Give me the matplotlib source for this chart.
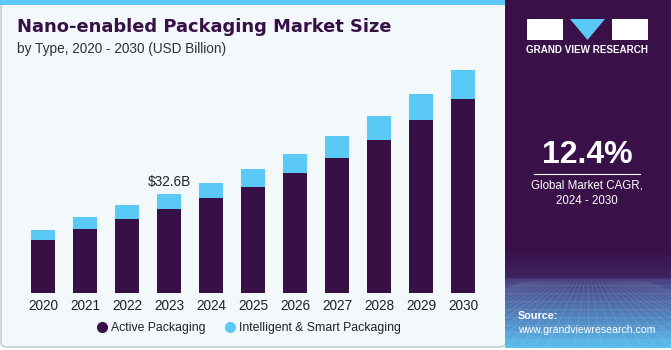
import numpy as np
import matplotlib
matplotlib.use("Agg")
import matplotlib.pyplot as plt
from matplotlib.patches import FancyBboxPatch, Rectangle, Polygon
from matplotlib.colors import LinearSegmentedColormap
from matplotlib.lines import Line2D

# market size by type, USD billion
years = ['2020', '2021', '2022', '2023', '2024', '2025', '2026', '2027', '2028', '2029', '2030']
active = [17.6, 21.2, 24.6, 27.7, 31.3, 35.0, 39.6, 44.7, 50.4, 57.0, 64.0]
smart = [3.3, 3.8, 4.4, 4.9, 5.0, 6.0, 6.3, 7.0, 7.9, 8.5, 9.6]
label_year = 3
label_text = '$32.6B'

dark = '#371046'
cyan = '#5bc9f6'
bg = '#f3f8fb'

plt.rcParams['font.family'] = ['Liberation Sans', 'DejaVu Sans']

fig = plt.figure(figsize=(6.71, 3.5), dpi=100)
fig.patch.set_facecolor('white')
W, H = 671.0, 350.0

# left panel background + border
panel = FancyBboxPatch((1 / W, 3 / H), 505 / W, 345 / H,
                       boxstyle='round,pad=0,rounding_size=0.012',
                       transform=fig.transFigure, facecolor=bg,
                       edgecolor='#c8cdd2', linewidth=1.2, zorder=-2)
fig.patches.append(panel)
fig.patches.append(Rectangle((0, 345 / H), 506 / W, 5 / H, transform=fig.transFigure,
                             facecolor=cyan, edgecolor='none', zorder=-1))

# right panel with gradient
rax = fig.add_axes([505 / W, 2 / H, 166 / W, 348 / H])
rax.set_zorder(1)
cmap = LinearSegmentedColormap.from_list('side', [
    (0.0, '#3a1048'), (0.72, '#3a1048'), (0.80, '#3f2560'),
    (0.805, '#4a4282'), (0.92, '#5388c2'), (1.0, '#5cbdee')])
grad = np.linspace(0, 1, 300).reshape(-1, 1)
rax.imshow(grad, aspect='auto', cmap=cmap, extent=[0, 1, 1, 0])
rax.set_xlim(0, 1)
rax.set_ylim(1, 0)
# faint perspective mesh near the bottom
for k in range(-12, 24):
    x0 = k / 12.0
    rax.plot([0.5 + (x0 - 0.5) * 0.25, x0], [0.81, 1.0], color='white', lw=0.4, alpha=0.18)
for yy in np.linspace(0.82, 1.0, 9):
    rax.plot([0, 1], [yy, yy], color='white', lw=0.4, alpha=0.15)
rax.axis('off')

# logo
fig.patches.append(Rectangle((527 / W, 310 / H), 36 / W, 21 / H, transform=fig.transFigure,
                             facecolor='white', edgecolor='none', zorder=3))
fig.patches.append(Polygon([(570 / W, 331 / H), (605 / W, 331 / H), (587.5 / W, 310 / H)],
                           closed=True, transform=fig.transFigure, facecolor=cyan,
                           edgecolor='none', zorder=3))
fig.patches.append(Rectangle((612 / W, 310 / H), 36 / W, 21 / H, transform=fig.transFigure,
                             facecolor='white', edgecolor='none', zorder=3))
fig.text(587 / W, 300 / H, 'GRAND VIEW RESEARCH', color='white', fontsize=7.1,
         fontweight='bold', ha='center', va='center', zorder=3)

# CAGR block
fig.text(587 / W, 195 / H, '12.4%', color='white', fontsize=23, fontweight='bold',
         ha='center', va='center', zorder=3)
fig.lines.append(Line2D([534 / W, 640 / W], [176 / H, 176 / H], transform=fig.transFigure,
                        color='white', lw=0.8, zorder=3))
fig.text(587 / W, 164 / H, 'Global Market CAGR,', color='white', fontsize=8.3,
         ha='center', va='center', zorder=3)
fig.text(587 / W, 149 / H, '2024 - 2030', color='white', fontsize=8.3,
         ha='center', va='center', zorder=3)
fig.text(518 / W, 34 / H, 'Source:', color='white', fontsize=7.8, fontweight='bold',
         ha='left', va='center', zorder=3)
fig.text(518 / W, 20 / H, 'www.grandviewresearch.com', color='white', fontsize=7.6,
         ha='left', va='center', zorder=3)

# titles
fig.text(17 / W, 323 / H, 'Nano-enabled Packaging Market Size', color=dark, fontsize=12.9,
         fontweight='bold', family='DejaVu Sans', ha='left', va='center')
fig.text(17 / W, 301 / H, 'by Type, 2020 - 2030 (USD Billion)', color='#333333', fontsize=9.8,
         ha='left', va='center')

# bars
ax = fig.add_axes([22 / W, (350 - 293.3) / H, 462 / W, 233.3 / H])
ax.set_zorder(2)
ax.set_facecolor('none')
x = np.arange(len(years))
ax.bar(x, active, width=0.57, color=dark, edgecolor='none')
ax.bar(x, smart, width=0.57, bottom=active, color=cyan, edgecolor='none')
ax.set_xlim(-0.5, 10.5)
ax.set_ylim(0, 76.8)
ax.set_xticks(x)
ax.set_xticklabels(years, fontsize=9.8, color='#222222')
ax.tick_params(axis='x', length=0, pad=4)
ax.set_yticks([])
for s in ax.spines.values():
    s.set_visible(False)
tot = active[label_year] + smart[label_year]
ax.text(label_year, tot + 1.8, label_text, ha='center', va='bottom', fontsize=9.8, color='#222222')

handles = [Line2D([], [], marker='o', linestyle='none', markersize=7, color=dark),
           Line2D([], [], marker='o', linestyle='none', markersize=7, color=cyan)]
ax.legend(handles, ['Active Packaging', 'Intelligent & Smart Packaging'], loc='center',
          bbox_to_anchor=(0.49, -0.148), ncol=2, frameon=False, fontsize=8.8,
          handlelength=1.0, handletextpad=0.2, columnspacing=1.5, borderaxespad=0,
          labelcolor='#222222')

fig.savefig('out.png', dpi=100, facecolor=fig.get_facecolor())
